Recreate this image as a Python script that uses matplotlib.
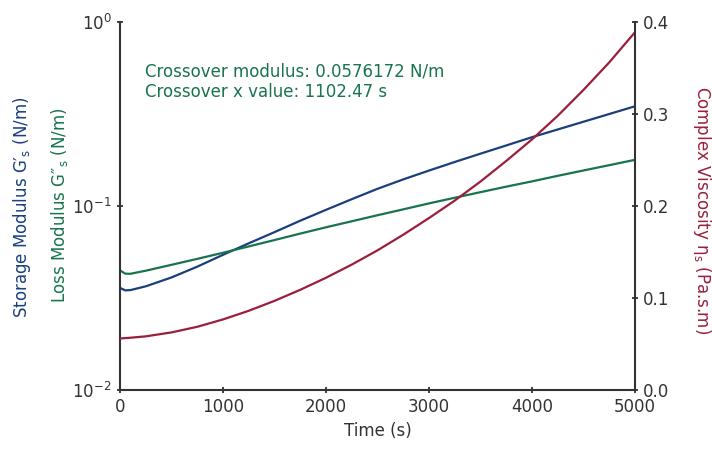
import matplotlib
matplotlib.use("Agg")
import matplotlib.pyplot as plt
from matplotlib.ticker import NullLocator, FixedLocator

time_s = [0, 50, 100, 250, 500, 750, 1000, 1250, 1500, 1750, 2000, 2250, 2500,
          2750, 3000, 3250, 3500, 3750, 4000, 4250, 4500, 4750, 5000]
storage_modulus = [0.0359, 0.0348, 0.0349, 0.0366, 0.0409, 0.0468, 0.0543, 0.0627,
                   0.0721, 0.0832, 0.0953, 0.1089, 0.1240, 0.1395, 0.1558, 0.1735,
                   0.1925, 0.2133, 0.2366, 0.2606, 0.2871, 0.3162, 0.3483]
loss_modulus = [0.0447, 0.0429, 0.0428, 0.0445, 0.0479, 0.0516, 0.0557, 0.0603,
                0.0653, 0.0708, 0.0766, 0.0826, 0.0891, 0.0959, 0.1033, 0.1109,
                0.1189, 0.1274, 0.1361, 0.1459, 0.1560, 0.1667, 0.1782]
complex_viscosity = [0.0560, 0.0564, 0.0568, 0.0583, 0.0626, 0.0687, 0.0767, 0.0861,
                     0.0969, 0.1089, 0.1220, 0.1363, 0.1518, 0.1688, 0.1869, 0.2059,
                     0.2266, 0.2490, 0.2724, 0.2981, 0.3262, 0.3561, 0.3889]

x_ticks = [0, 1000, 2000, 3000, 4000, 5000]
right_ticks = [0.0, 0.1, 0.2, 0.3, 0.4]
annotation_lines = ["Crossover modulus: 0.0576172 N/m", "Crossover x value: 1102.47 s"]

BLUE = "#1b3f7c"
GREEN = "#17744c"
RED = "#9a1f3d"
GRAY = "#333333"

plt.rcParams['font.family'] = ['DejaVu Sans']
fig = plt.figure(figsize=(7.12, 4.51), dpi=100)
ax = fig.add_axes([120/712, 1-390/451, (635-120)/712, (390-22)/451])
ax2 = ax.twinx()

ax.plot(time_s, storage_modulus, color=BLUE, lw=1.6)
ax.plot(time_s, loss_modulus, color=GREEN, lw=1.6)
ax2.plot(time_s, complex_viscosity, color=RED, lw=1.6)

ax.set_yscale('log')
ax.set_ylim(1e-2, 1)
ax.set_xlim(0, 5000)
ax2.set_ylim(0, 0.4)
ax.yaxis.set_major_locator(FixedLocator([1e-2, 1e-1, 1]))
ax.yaxis.set_minor_locator(NullLocator())
ax.set_yticklabels([r"10$^{\mathregular{-2}}$", r"10$^{\mathregular{-1}}$", r"10$^{\mathregular{0}}$"])
ax.set_xticks(x_ticks)
ax2.set_yticks(right_ticks)
ax2.set_yticklabels([f"{v:.1f}" for v in right_ticks])

for a in (ax, ax2):
    a.spines['top'].set_visible(False)
    for s in a.spines.values():
        s.set_color(GRAY)
        s.set_linewidth(1.5)
    a.tick_params(colors=GRAY, labelsize=12, width=1.3, length=5, direction='inout')
ax.spines['right'].set_visible(False)
ax2.spines['left'].set_visible(False)
ax2.spines['bottom'].set_visible(False)

ax.set_xlabel("Time (s)", fontsize=12, color=GRAY, labelpad=4)

fig.text(22/712, 1-207/451, "Storage Modulus G′$_{\\mathregular{s}}$ (N/m)", rotation=90,
         color=BLUE, fontsize=12, ha='center', va='center')
fig.text(60/712, 1-205/451, "Loss Modulus G″$_{\\mathregular{s}}$ (N/m)", rotation=90,
         color=GREEN, fontsize=12, ha='center', va='center')
fig.text(702/712, 1-210/451, "Complex Viscosity η$_{\\mathregular{s}}$ (Pa.s.m)", rotation=270,
         color=RED, fontsize=12, ha='center', va='center')

fig.text(145/712, 1-72/451, annotation_lines[0], color=GREEN, fontsize=12, va='center')
fig.text(145/712, 1-92/451, annotation_lines[1], color=GREEN, fontsize=12, va='center')

fig.savefig("out.png", dpi=100)
